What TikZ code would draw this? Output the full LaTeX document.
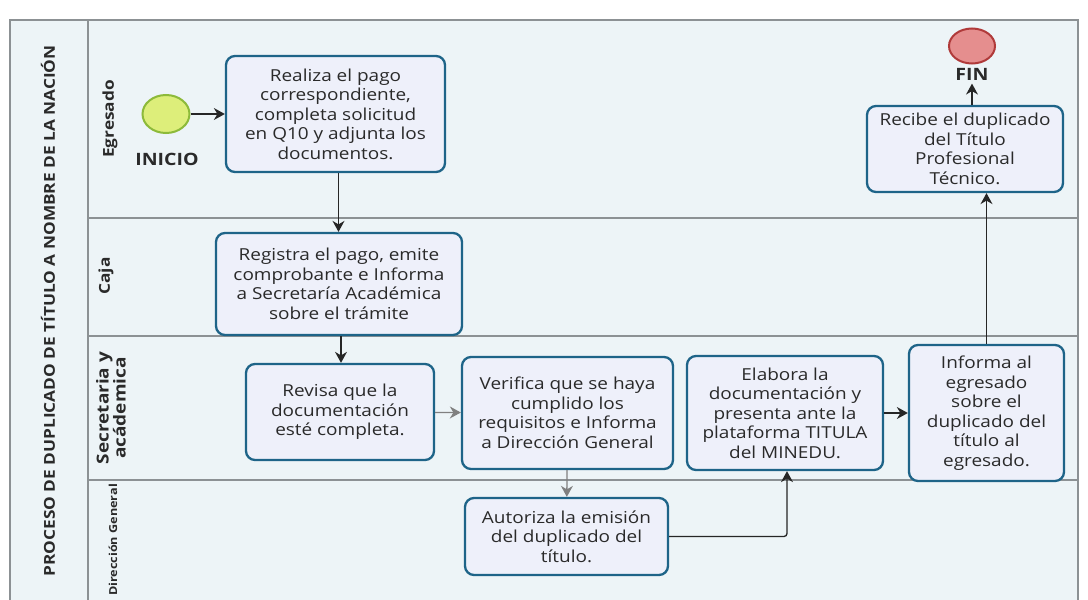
\documentclass[tikz,border=0pt]{standalone}
\usepackage{fontspec}
\setmainfont{Open Sans}[FakeStretch=1.15]
\usetikzlibrary{arrows.meta,shapes.geometric}
\definecolor{bgc}{HTML}{EDF4F7}
\definecolor{boxfill}{HTML}{EEF0FA}
\definecolor{boxline}{HTML}{1E6488}
\definecolor{laneline}{HTML}{8C9194}
\definecolor{txt}{HTML}{2A2A2A}
\definecolor{startfill}{HTML}{DDEE7A}
\definecolor{startline}{HTML}{8DBA3A}
\definecolor{endfill}{HTML}{E58E8E}
\definecolor{endline}{HTML}{B03A3A}
\tikzset{
  task/.style={draw=boxline, line width=2.3pt, fill=boxfill, rounded corners=9pt,
    align=center, text=txt, inner sep=0pt, font=\fontsize{16.5}{19.5}\selectfont},
  flow/.style={draw=black!85, line width=1.3pt, -{Stealth[length=11pt,width=12pt]}},
  gflow/.style={draw=black!50, line width=1.3pt, -{Stealth[length=11pt,width=12pt]}},
  lanelbl/.style={rotate=90, font=\bfseries\fontsize{15}{16}\selectfont, text=txt, align=center},
  evlbl/.style={font=\bfseries\fontsize{17}{18}\selectfont, text=txt}
}
\begin{document}
\begin{tikzpicture}[x=1pt,y=-1pt]
\useasboundingbox (0,0) rectangle (1088,600);
\clip (0,0) rectangle (1088,600);
\fill[white] (0,0) rectangle (1088,600);
% pool
\draw[laneline, fill=bgc, line width=1.2pt] (10,20) rectangle (1078,640);
\draw[laneline, line width=1.2pt] (88,20) -- (88,640);
\draw[laneline, line width=1.2pt] (88,218) -- (1078,218);
\draw[laneline, line width=1.2pt] (88,336) -- (1078,336);
\draw[laneline, line width=1.2pt] (88,480) -- (1078,480);
% titles
\node[rotate=90, font=\bfseries\fontsize{15}{16}\selectfont, text=txt] (title) at (48,311) {PROCESO DE DUPLICADO DE TÍTULO A NOMBRE DE LA NACIÓN};
\node[lanelbl] (l1) at (110,119) {Egresado};
\node[lanelbl] (l2) at (106,276) {Caja};
\node[lanelbl, font=\bfseries\fontsize{16.5}{17}\selectfont] (l3) at (111,408) {Secretaria y\\acádemica};
\node[lanelbl, font=\bfseries\fontsize{11}{12}\selectfont] (l4) at (113,540) {Dirección General};
% events
\node[ellipse, draw=startline, fill=startfill, line width=2pt, minimum width=47pt, minimum height=38pt, inner sep=0pt] (ini) at (166,114) {};
\node[evlbl] (inilbl) at (167,159) {INICIO};
\node[ellipse, draw=endline, fill=endfill, line width=2pt, minimum width=46pt, minimum height=35pt, inner sep=0pt] (fin) at (972,46) {};
\node[evlbl] (finlbl) at (972,74) {FIN};
% tasks
\node[task, minimum width=219pt, minimum height=116pt] (b1) at (335.5,114) {Realiza el pago\\correspondiente,\\completa solicitud\\en Q10 y adjunta los\\documentos.};
\node[task, minimum width=246pt, minimum height=102pt] (b2) at (339,284) {Registra el pago, emite\\comprobante e Informa\\a Secretaría Académica\\sobre el trámite};
\node[task, minimum width=188pt, minimum height=96pt] (b3) at (340,412) {Revisa que la\\documentación\\esté completa.};
\node[task, minimum width=211pt, minimum height=112pt] (b4) at (567.5,413) {Verifica que se haya\\cumplido los\\requisitos e Informa\\a Dirección General};
\node[task, minimum width=203pt, minimum height=77pt] (b5) at (566.5,536.5) {Autoriza la emisión\\del duplicado del\\título.};
\node[task, minimum width=196pt, minimum height=114pt] (b6) at (785,413) {Elabora la\\documentación y\\presenta ante la\\plataforma TITULA\\del MINEDU.};
\node[task, minimum width=155pt, minimum height=136pt] (b7) at (986.5,413) {Informa al\\egresado\\sobre el\\duplicado del\\título al\\egresado.};
\node[task, minimum width=196pt, minimum height=86pt] (b8) at (965,149) {Recibe el duplicado\\del Título\\Profesional\\Técnico.};
% flows
\draw[flow] (ini) -- (b1);
\draw[flow] ([xshift=3pt]b1.south) -- ([xshift=3pt]b1.south |- b2.north);
\draw[flow] ([xshift=2pt]b2.south) -- ([xshift=2pt]b2.south |- b3.north);
\draw[gflow] (b3) -- (b4);
\draw[gflow] (b4) -- (b5);
\draw[flow, rounded corners=3pt] (b5.east) -| ([xshift=2pt]b6.south);
\draw[flow] (b6) -- (b7);
\draw[flow] (b7.north) -- (b7.north |- b8.south);
\draw[flow] (b8.north -| finlbl) -- (finlbl.south);
\end{tikzpicture}
\end{document}
